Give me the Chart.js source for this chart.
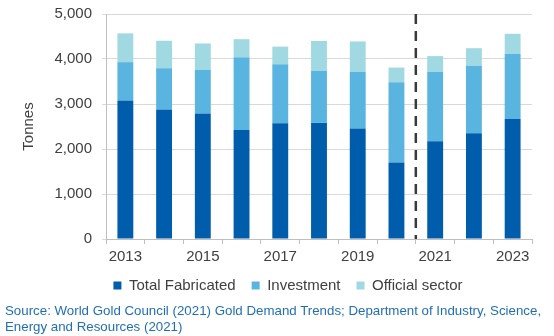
<!DOCTYPE html>
<html>
<head>
<meta charset="utf-8">
<script src="https://cdn.jsdelivr.net/npm/chart.js@4.4.0/dist/chart.umd.min.js"></script>
<style>
  html, body { margin: 0; padding: 0; background: #fff; }
  #wrap { position: relative; width: 554px; height: 336px; }
  canvas { display: block; }
  #source {
    position: absolute; left: 5px; top: 303px;
    font-family: "Liberation Sans", Arial, sans-serif;
    font-size: 13.3px; line-height: 16px; color: #1f6fb6;
  }
</style>
</head>
<body>
<div id="wrap">
  <canvas id="chart1" width="554" height="336"></canvas>
  <div id="source">Source: World Gold Council (2021) Gold Demand Trends; Department of Industry, Science,<br>Energy and Resources (2021)</div>
</div>
<script>
const years = ['2013', '2014', '2015', '2016', '2017', '2018', '2019', '2020', '2021', '2022', '2023'];
const fabricated = [3080, 2880, 2790, 2420, 2570, 2580, 2455, 1700, 2175, 2350, 2665];
const investment = [850, 915, 965, 1620, 1315, 1160, 1255, 1785, 1535, 1500, 1445];
const officialSector = [640, 610, 590, 400, 390, 660, 680, 325, 355, 390, 450];
// forecast years start after this index
const lastActual = 7;

const textColor = '#404040';
const font = { family: '"Liberation Sans", Arial, sans-serif', size: 15 };

// dashed divider between actuals and forecasts
const dividerPlugin = {
    id: 'divider',
    afterDatasetsDraw(chart) {
        const x = chart.scales.x;
        const area = chart.chartArea;
        const px = (x.getPixelForValue(lastActual) + x.getPixelForValue(lastActual + 1)) / 2;
        const ctx = chart.ctx;
        ctx.save();
        ctx.strokeStyle = '#3a3a3a';
        ctx.lineWidth = 2.5;
        ctx.setLineDash([10, 7]);
        ctx.beginPath();
        ctx.moveTo(px, area.top);
        ctx.lineTo(px, area.bottom);
        ctx.stroke();
        ctx.restore();
    }
};

// nudge the legend right so it sits under the plot
const legendShift = {
    id: 'legendShift',
    afterLayout(chart) {
        chart.legend.left += 22;
        chart.legend.right += 22;
    }
};

const data = {
    labels: years,
    datasets: [
        { label: 'Total Fabricated', data: fabricated, backgroundColor: '#005dac' },
        { label: 'Investment', data: investment, backgroundColor: '#5ab4e0' },
        { label: 'Official sector', data: officialSector, backgroundColor: '#a1d9e2' }
    ]
};

const config = {
    type: 'bar',
    data: data,
    options: {
        responsive: false,
        animation: false,
        layout: { padding: { left: 0, right: 22, top: 14, bottom: 33 } },
        datasets: { bar: { categoryPercentage: 1, barPercentage: 0.41 } },
        plugins: {
            tooltip: { enabled: false },
            legend: {
                position: 'bottom',
                labels: {
                    color: textColor, font: font,
                    boxWidth: 8, boxHeight: 8, padding: 16
                }
            }
        },
        scales: {
            x: {
                stacked: true,
                grid: { drawOnChartArea: false, tickLength: 5, color: '#bfbfbf' },
                border: { color: '#bfbfbf' },
                ticks: {
                    color: textColor, font: font, autoSkip: false, maxRotation: 0, padding: 4,
                    callback: (v, i) => (i % 2 === 0 ? years[i] : '')
                },
                afterFit: (s) => { s.height = 23; }
            },
            y: {
                stacked: true,
                min: 0, max: 5000,
                grid: { color: '#d9d9d9', tickLength: 4 },
                border: { color: '#bfbfbf' },
                ticks: {
                    stepSize: 1000, color: textColor, font: font, padding: 10,
                    callback: (v) => v.toLocaleString('en-US')
                },
                title: {
                    display: true, text: 'Tonnes', color: textColor, font: font,
                    padding: { top: 20, bottom: 4 }
                },
                afterFit: (s) => {
                    s.width = 106;
                    s.paddingTop = 0;
                    s.paddingBottom = 0;
                }
            }
        }
    },
    plugins: [dividerPlugin, legendShift]
};

const chart1 = new Chart(document.getElementById('chart1'), config);
</script>
</body>
</html>
